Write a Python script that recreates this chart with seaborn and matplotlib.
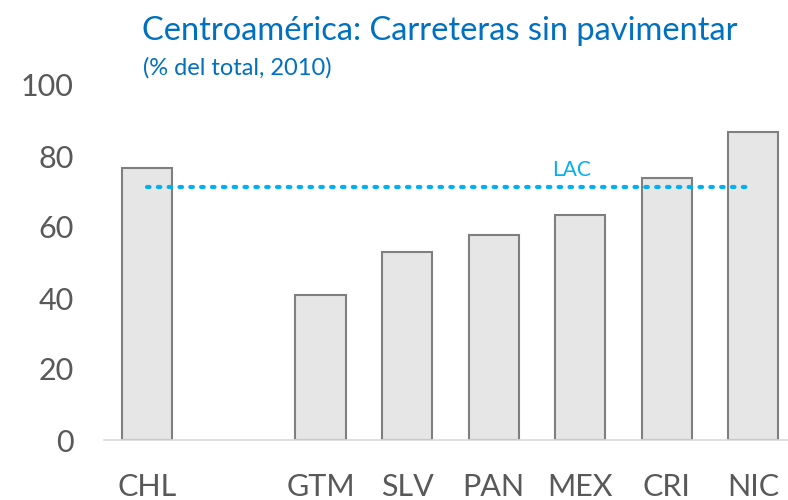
import matplotlib
matplotlib.use("Agg")
import matplotlib.pyplot as plt
import seaborn as sns
import pandas as pd

# datos (% del total, 2010)
paises = ["CHL", "", "GTM", "SLV", "PAN", "MEX", "CRI", "NIC"]
valores = [76.6, None, 40.8, 53.0, 57.7, 63.4, 73.7, 86.7]
lac = 71.3

df = pd.DataFrame({"pais": paises, "valor": valores})

sns.set_theme(style="white")
plt.rcParams["font.family"] = ["Lato", "DejaVu Sans"]

fig = plt.figure(figsize=(7.88, 5), dpi=100)
ax = fig.add_axes([0.132, 0.12, 0.868, 0.71])

sns.barplot(data=df, x="pais", y="valor", order=paises, color="#E6E6E6",
            saturation=1, edgecolor="#7F7F7F", linewidth=1.5, width=0.58, ax=ax)

# linea LAC punteada
ax.plot([0, 7], [lac, lac], linestyle=(0, (0.6, 2.0)), dash_capstyle="round",
        color="#00B0F0", linewidth=3)
ax.text(4.9, lac + 1.8, "LAC", color="#00B0F0", fontsize=15, ha="center", va="bottom")

ax.set_ylim(0, 100)
ax.set_xlim(-0.5, 7.4)
ax.set_yticks([0, 20, 40, 60, 80, 100])
ax.tick_params(axis="both", labelsize=22, colors="#595959", length=0)
ax.tick_params(axis="x", pad=24)
ax.tick_params(axis="y", pad=22)
ax.set_xlabel("")
ax.set_ylabel("")
for s in ["left", "right", "top"]:
    ax.spines[s].set_visible(False)
ax.spines["bottom"].set_color("#D9D9D9")
ax.spines["bottom"].set_linewidth(1.2)

fig.text(0.5575, 0.938, "Centroamérica: Carreteras sin pavimentar", color="#0070C0",
         fontsize=23.5, ha="center", va="center")
fig.text(0.182, 0.864, "(% del total, 2010)", color="#0070C0", fontsize=17,
         ha="left", va="center")

fig.savefig("out.png", dpi=100)
